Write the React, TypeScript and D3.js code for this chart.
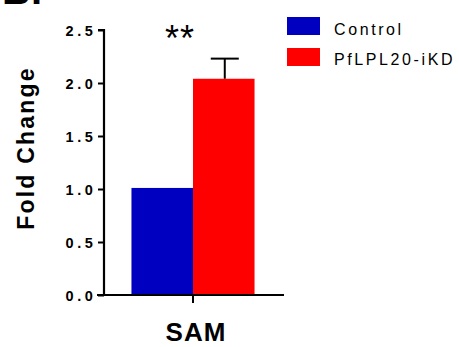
import React, { useRef, useEffect } from "react";
import * as d3 from "d3";

const categories = ["SAM"];
const series = ["Control", "PfLPL20-iKD"];
const seriesValues = [1.01, 2.04];
const seriesErrors = [0, 0.19];
const seriesColors = ["#0000C0", "#FF0000"];
const yTicks = [0, 0.5, 1.0, 1.5, 2.0, 2.5];
const significance = "**";

const FONT = "Arial, 'Liberation Sans', Helvetica, sans-serif";

const App = () => {
  const svgRef = useRef<SVGSVGElement>(null);

  useEffect(() => {
    const svg = d3.select(svgRef.current);
    svg.selectAll("*").remove();

    const y = d3.scaleLinear().domain([0, 2.5]).range([295, 30]);
    const x = d3.scaleBand().domain(categories).range([97, 289]).paddingOuter(0.28);
    const xSub = d3.scaleBand().domain(series).range([0, x.bandwidth()]);

    // panel letter, cut off at the top
    svg.append("text")
      .attr("x", 2).attr("y", 4)
      .attr("font-family", FONT).attr("font-weight", "bold").attr("font-size", 40)
      .text("B.");

    // bars
    const g = svg.append("g");
    categories.forEach((c) => {
      series.forEach((s, i) => {
        g.append("rect")
          .attr("x", x(c)! + xSub(s)!)
          .attr("y", y(seriesValues[i]))
          .attr("width", xSub.bandwidth())
          .attr("height", y(0) - y(seriesValues[i]))
          .attr("fill", seriesColors[i]);
        if (seriesErrors[i] > 0) {
          const cx = x(c)! + xSub(s)! + xSub.bandwidth() / 2 + 1;
          const top = y(seriesValues[i] + seriesErrors[i]);
          g.append("line")
            .attr("x1", cx).attr("x2", cx)
            .attr("y1", y(seriesValues[i])).attr("y2", top)
            .attr("stroke", "#000").attr("stroke-width", 2);
          g.append("line")
            .attr("x1", cx - 14).attr("x2", cx + 14)
            .attr("y1", top).attr("y2", top)
            .attr("stroke", "#000").attr("stroke-width", 2);
        }
      });
      svg.append("text")
        .attr("x", x(c)! + x.bandwidth() / 2 - 13)
        .attr("y", 51)
        .attr("text-anchor", "middle")
        .attr("font-family", FONT).attr("font-size", 36)
        .attr("letter-spacing", 1)
        .text(significance);
    });

    // y axis
    const yAxis = d3.axisLeft(y).tickValues(yTicks).tickSize(6).tickPadding(5)
      .tickFormat(d3.format(".1f"));
    const ya = svg.append("g").attr("transform", "translate(104,0)").call(yAxis);
    ya.select(".domain").attr("stroke-width", 2.2).attr("d", `M-6,${y(2.5)}H0V${y(0)}`);
    ya.selectAll(".tick line").attr("stroke-width", 2);
    ya.selectAll(".tick text")
      .attr("font-family", FONT).attr("font-weight", "bold").attr("font-size", 14.5)
      .attr("letter-spacing", 3.6).attr("dx", 3.5).attr("dy", "0.36em").attr("fill", "#000");

    // x axis
    const xAxis = d3.axisBottom(x).tickSize(8).tickPadding(18).tickSizeOuter(0);
    const xa = svg.append("g").attr("transform", `translate(0,${y(0)})`).call(xAxis);
    xa.select(".domain").attr("stroke-width", 2.2).attr("d", "M97,0H284");
    xa.selectAll(".tick line").attr("stroke-width", 2);
    xa.selectAll(".tick text")
      .attr("font-family", FONT).attr("font-weight", "bold").attr("font-size", 26)
      .attr("letter-spacing", 1).attr("dx", 3).attr("dy", "0.75em").attr("fill", "#000");

    // y title
    svg.append("text")
      .attr("transform", "translate(34,148) rotate(-90)")
      .attr("text-anchor", "middle")
      .attr("font-family", FONT).attr("font-weight", "bold").attr("font-size", 23)
      .attr("letter-spacing", 2.2)
      .text("Fold Change");

    // legend
    series.forEach((s, i) => {
      svg.append("rect")
        .attr("x", 287).attr("y", 17 + i * 31)
        .attr("width", 33).attr("height", 18)
        .attr("fill", seriesColors[i]);
      svg.append("text")
        .attr("x", 334).attr("y", 34.5 + i * 30)
        .attr("font-family", FONT).attr("font-size", 16)
        .attr("letter-spacing", 2.6)
        .text(s);
    });
  }, []);

  return (
    <svg ref={svgRef} width={459} height={347}
      style={{ position: "absolute", left: 0, top: 0, background: "#fff" }} />
  );
};

export default App;
